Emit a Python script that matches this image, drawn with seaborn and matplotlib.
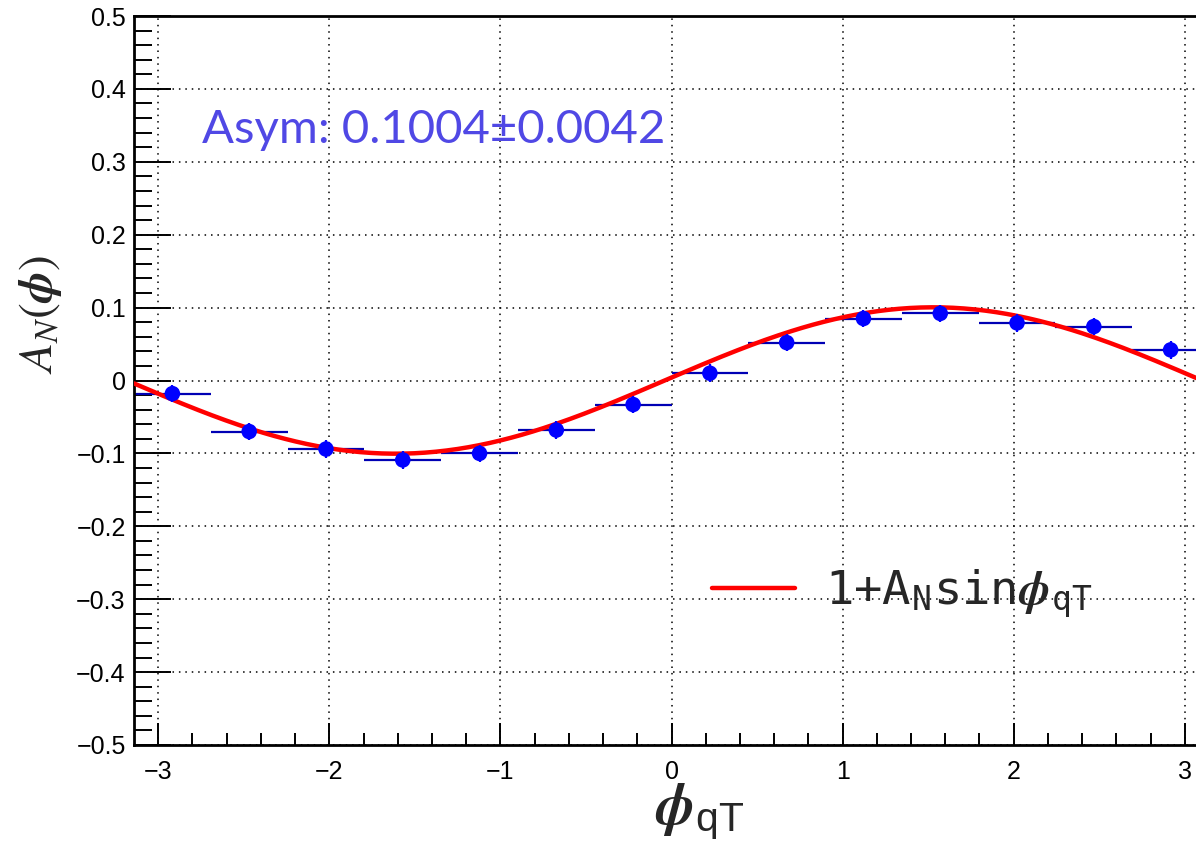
import numpy as np
import pandas as pd
import matplotlib
matplotlib.use("Agg")
import matplotlib.pyplot as plt
import seaborn as sns
from matplotlib.ticker import MultipleLocator

# ---- data ----
n_bins = 14
phi_lo, phi_hi = -np.pi, np.pi
asym_values = [-0.018, -0.070, -0.094, -0.109, -0.100, -0.068, -0.033,
               0.010, 0.052, 0.085, 0.092, 0.079, 0.074, 0.042]
asym_errors = [0.012, 0.012, 0.012, 0.012, 0.012, 0.012, 0.012,
               0.012, 0.012, 0.012, 0.012, 0.012, 0.012, 0.012]
fit_amplitude = 0.1004
fit_amplitude_err = 0.0042
fit_phase = 0.04

edges = np.linspace(phi_lo, phi_hi, n_bins + 1)
centers = 0.5 * (edges[:-1] + edges[1:])
half_w = 0.5 * (edges[1] - edges[0])
df = pd.DataFrame({"phi": centers, "A": asym_values, "err": asym_errors})

xs = np.linspace(phi_lo, phi_hi, 400)
fit_df = pd.DataFrame({"phi": xs, "A": fit_amplitude * np.sin(xs + fit_phase)})

# ---- style ----
sns.set_theme(style="white")
plt.rcParams["font.family"] = ["Liberation Sans", "DejaVu Sans"]
plt.rcParams["mathtext.fontset"] = "stix"

W, H = 1196, 849
fig = plt.figure(figsize=(W / 100, H / 100), dpi=100)
ax_l, ax_r, ax_t, ax_b = 134.0, 1209.0, 16.0, 745.0
ax = fig.add_axes([ax_l / W, 1 - ax_b / H, (ax_r - ax_l) / W, (ax_b - ax_t) / H])

ax.set_xlim(phi_lo, phi_hi)
ax.set_ylim(-0.5, 0.5)

# grid
ax.xaxis.set_major_locator(MultipleLocator(1))
ax.xaxis.set_minor_locator(MultipleLocator(0.2))
ax.yaxis.set_major_locator(MultipleLocator(0.1))
ax.yaxis.set_minor_locator(MultipleLocator(0.02))
ax.grid(True, which="major", color="black", linestyle=(0, (1, 3.2)), linewidth=1.1)
ax.set_axisbelow(True)

# fit curve
sns.lineplot(data=fit_df, x="phi", y="A", ax=ax, color="#ff0000", linewidth=3.2,
             label=r"1+A$_\mathregular{N}$sin$\boldsymbol{\phi}_\mathregular{qT}$", zorder=3,
             legend=False)

# error bars
ax.errorbar(df["phi"], df["A"], xerr=half_w, fmt="none", ecolor="#0000b4",
            elinewidth=1.6, capsize=0, zorder=2)
ax.errorbar(df["phi"], df["A"], yerr=df["err"], fmt="none", ecolor="#0000ff",
            elinewidth=1.6, capsize=0, zorder=4)
sns.scatterplot(data=df, x="phi", y="A", ax=ax, color="#0000ff", s=125,
                edgecolor="none", zorder=5, legend=False)

# spines & ticks (ROOT style)
for s in ax.spines.values():
    s.set_linewidth(2.0)
    s.set_color("black")
ax.tick_params(axis="both", which="both", direction="in", colors="black",
               labelsize=18, width=1.4)
ax.tick_params(axis="y", which="major", length=26.5, pad=6)
ax.tick_params(axis="y", which="minor", length=13)
ax.tick_params(axis="x", which="major", length=16, pad=11)
ax.tick_params(axis="x", which="minor", length=8.5)
ax.tick_params(left=True, bottom=True, top=False, right=False, which="both")
ax.set_xticks([-3, -2, -1, 0, 1, 2, 3])
ax.set_xticklabels(["\u22123", "\u22122", "\u22121", "0", "1", "2", "3"])
yt = np.round(np.arange(-0.5, 0.51, 0.1), 2)
ax.set_yticks(yt)
ax.set_yticklabels([("\u2212" if v < 0 else "") + ("0" if abs(v) < 1e-9 else f"{abs(v):.1f}")
                    for v in yt])

# axis labels
ax.set_xlabel(r"$\boldsymbol{\phi}_\mathregular{qT}$", fontsize=42)
ax.xaxis.set_label_coords((700 - ax_l) / (ax_r - ax_l), (ax_b - 782) / (ax_b - ax_t))
ax.set_ylabel(r"$A_N(\boldsymbol{\phi})$", fontsize=34)
ax.yaxis.set_label_coords((64 - ax_l) / (ax_r - ax_l), (ax_b - 315) / (ax_b - ax_t))

# legend
leg = ax.legend(loc="center left",
                bbox_to_anchor=((712 - ax_l) / (ax_r - ax_l), (ax_b - 594) / (ax_b - ax_t)),
                frameon=False, borderpad=0, borderaxespad=0, handlelength=1.75,
                handletextpad=0.65, prop={"family": "DejaVu Sans Mono", "size": 34})

# asymmetry annotation
fig.text(202 / W, 1 - 130 / H, f"Asym: {fit_amplitude:.4f}\u00b1{fit_amplitude_err:.4f}",
         color="#5048e5", fontsize=34, family="Lato", va="center", ha="left")

fig.savefig("out.png", dpi=100)
